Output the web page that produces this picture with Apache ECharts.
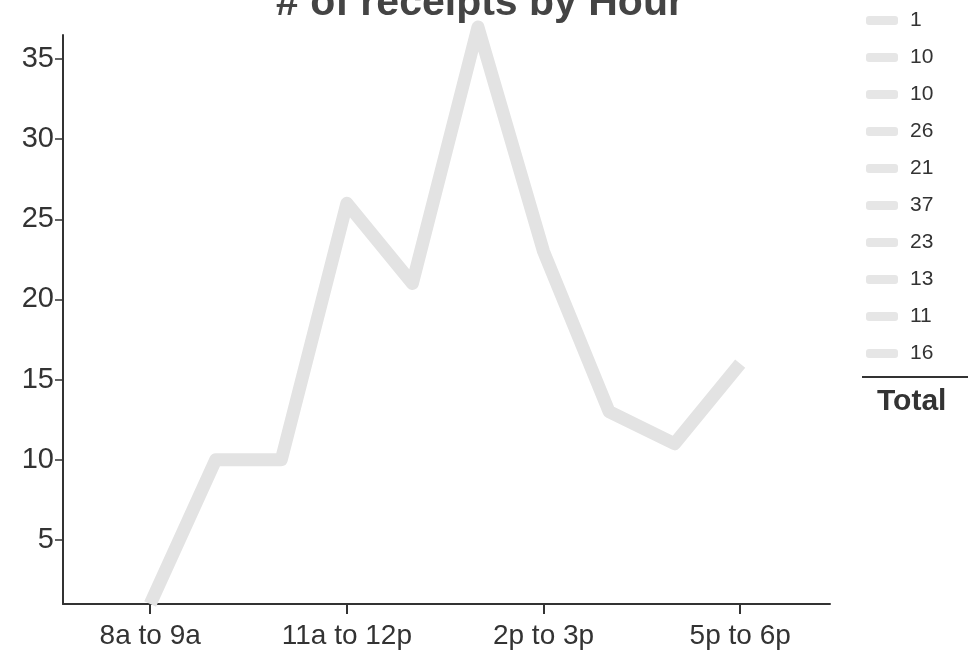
<!DOCTYPE html>
<html>
<head>
<meta charset="utf-8">
<script src="https://cdn.jsdelivr.net/npm/echarts@6/dist/echarts.min.js"></script>
<style>
  html, body { margin: 0; padding: 0; background: #fff; }
  #chart { width: 972px; height: 667px; }
</style>
</head>
<body>
<div id="chart"></div>
<script>
  // hourly buckets
  var hours = ['8a to 9a', '9a to 10a', '10a to 11a', '11a to 12p', '12p to 1p',
    '1p to 2p', '2p to 3p', '3p to 4p', '4p to 5p', '5p to 6p']
  var receipts = [1, 10, 10, 26, 21, 37, 23, 13, 11, 16]
  var yTicks = [5, 10, 15, 20, 25, 30, 35]
  var xTicks = [0, 3, 6, 9]

  var font = '"Liberation Sans", Arial, sans-serif'
  var chart = echarts.init(document.getElementById('chart'))

  // legend on the right, cut by the page edge like the original
  var legendItems = []
  receipts.forEach(function (v, i) {
    var cy = 20 + i * 37
    legendItems.push({
      type: 'rect',
      shape: {x: 866, y: cy - 4, width: 32, height: 9, r: 3},
      style: {fill: '#e6e6e6'}
    })
    legendItems.push({
      type: 'text',
      x: 910, y: cy,
      style: {
        text: String(v),
        fill: '#333',
        font: '21px ' + font,
        textVerticalAlign: 'middle'
      }
    })
  })
  legendItems.push({
    type: 'line',
    shape: {x1: 862, y1: 377, x2: 968, y2: 377},
    style: {stroke: '#333', lineWidth: 2}
  })
  legendItems.push({
    type: 'text',
    x: 877, y: 402,
    style: {
      text: 'Total',
      fill: '#333',
      font: 'bold 30px ' + font,
      textVerticalAlign: 'middle'
    }
  })

  chart.setOption({
    animation: false,
    title: {
      text: '# of receipts by Hour',
      left: 475,
      textAlign: 'center',
      top: -22,
      textStyle: {
        fontFamily: font,
        fontWeight: 'bold',
        fontSize: 41,
        color: '#444'
      }
    },
    grid: {
      left: 63,
      right: 142,
      top: 35,
      bottom: 63
    },
    xAxis: {
      type: 'value',
      min: -1.33,
      max: 10.37,
      splitLine: {show: false},
      axisLine: {onZero: false, lineStyle: {color: '#333', width: 2}},
      axisTick: {
        show: true,
        customValues: xTicks,
        length: 10,
        lineStyle: {color: '#333', width: 2}
      },
      axisLabel: {
        customValues: xTicks,
        formatter: function (v) { return hours[Math.round(v)] },
        color: '#333',
        fontSize: 28,
        margin: 18,
        fontFamily: font
      }
    },
    yAxis: {
      type: 'value',
      min: 1,
      max: 36.5,
      splitLine: {show: false},
      axisLine: {show: true, onZero: false, lineStyle: {color: '#333', width: 2}},
      axisTick: {
        show: true,
        customValues: yTicks,
        length: 8,
        lineStyle: {color: '#333', width: 1.5}
      },
      axisLabel: {
        customValues: yTicks,
        color: '#333',
        fontSize: 29,
        margin: 9,
        fontFamily: font
      }
    },
    graphic: legendItems,
    series: [{
      type: 'line',
      data: receipts.map(function (v, i) { return [i, v] }),
      showSymbol: false,
      clip: false,
      z: 0,
      lineStyle: {
        color: '#e3e3e3',
        width: 13,
        cap: 'butt',
        join: 'round'
      }
    }]
  })
</script>
</body>
</html>
